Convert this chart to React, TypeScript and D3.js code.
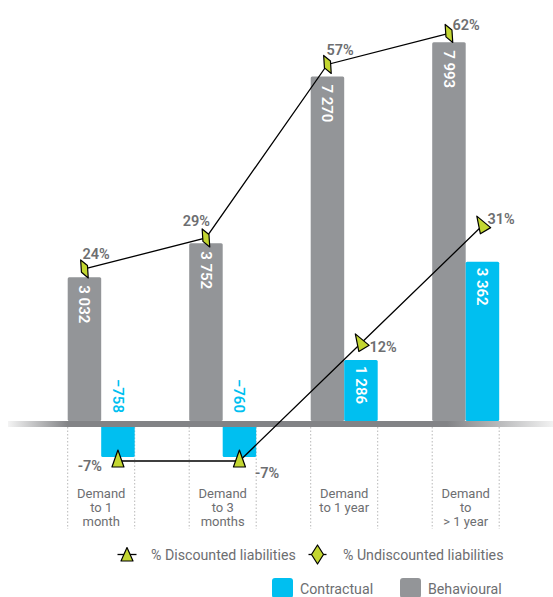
import React from "react";
import * as d3 from "d3";

const categories = ["Demand to 1 month", "Demand to 3 months", "Demand to 1 year", "Demand to > 1 year"];
const categoryLines = [["Demand", "to 1", "month"], ["Demand", "to 3", "months"], ["Demand", "to 1 year"], ["Demand", "to", "> 1 year"]];
const behavioural = [3032, 3752, 7270, 7993];
const contractual = [-758, -760, 1286, 3362];
const discounted = [-7, -7, 12, 31];
const undiscounted = [24, 29, 57, 62];
const seriesNames = ["Behavioural", "Contractual"];

// layout-only label offsets (dx, dy, anchor)
const undiscLabelPos: [number, number, string][] = [[-2, -9.5, "start"], [4, -12, "end"], [-1, -9.5, "start"], [3.5, -3.5, "start"]];
const discLabelPos: [number, number, string][] = [[-16, 9.5, "end"], [15.5, 16.5, "start"], [8.5, 9, "start"], [5, -2, "start"]];

const W = 553, H = 597;
const GRAY = "#939598";
const CYAN = "#00bff0";
const GREEN = "#c3d631";
const TXT = "#6d6e71";
const FONT = "Roboto, 'Open Sans', sans-serif";

const fmt = (v: number) => d3.format(",")(v).replace(/,/g, " ");

export default function App() {
  const x = d3.scaleBand<string>().domain(categories).range([67.7, 499.2]).paddingInner(0.4486).paddingOuter(0);
  const xs = d3.scaleBand<string>().domain(seriesNames).range([0, x.bandwidth()]);
  const k = 0.0474;
  const y0 = 421;
  const y = d3.scaleLinear().domain([-1000, 8000]).range([y0 + 1000 * k, y0 - 8000 * k]);
  const yp = d3.scaleLinear().domain([-10, 70]).range([479.6, -16.1]);

  const gx = (i: number) => x(categories[i])! + xs("Behavioural")! + xs.bandwidth() / 2;
  const cx = (i: number) => x(categories[i])! + xs("Contractual")! + xs.bandwidth() / 2;

  const undPts = undiscounted.map((v, i) => [gx(i), yp(v)] as [number, number]);
  const disPts = discounted.map((v, i) => [cx(i), yp(v)] as [number, number]);
  const line = d3.line();

  const diamond = "M-3.8,-9L3,-3.4L3.8,9L-3,3.4Z";
  const tri = "M0,-11L-6,6L6,6Z";

  const bw = xs.bandwidth();

  return (
    <svg width={W} height={H} style={{ position: "absolute", left: 0, top: 0, background: "#fff" }} fontFamily={FONT}>
      <defs>
        <linearGradient id="base" x1="0" x2={W} y1="0" y2="0" gradientUnits="userSpaceOnUse">
          <stop offset={8 / W} stopColor="#f4f4f4" />
          <stop offset={68 / W} stopColor="#828386" />
          <stop offset={447 / W} stopColor="#828386" />
          <stop offset={1} stopColor="#f2f2f2" />
        </linearGradient>
      </defs>

      {/* dotted guides */}
      {categories.map((c, i) => (
        <g key={"g" + i}>
          {[x(c)!, x(c)! + x.bandwidth()].map((xx, j) => (
            <line key={j} x1={xx} x2={xx} y1={427} y2={529} stroke="#b8b8b8" strokeWidth={1} strokeDasharray="1.5,2" />
          ))}
        </g>
      ))}

      {/* bars */}
      {categories.map((c, i) => {
        const bx = x(c)! + xs("Behavioural")!;
        const cxx = x(c)! + xs("Contractual")!;
        const bv = behavioural[i], cv = contractual[i];
        return (
          <g key={"b" + i}>
            <rect x={bx} y={y(bv)} width={bw} height={y(0) - y(bv)} fill={GRAY} rx={1.5} />
            <rect x={cxx} y={Math.min(y(cv), y(0))} width={bw} height={Math.abs(y(cv) - y(0))} fill={CYAN} rx={1.5} />
          </g>
        );
      })}

      {/* baseline band */}
      <rect x={8} y={421} width={W - 8} height={6} fill="url(#base)" />

      {/* bar value labels */}
      {categories.map((c, i) => {
        const bv = behavioural[i], cv = contractual[i];
        const bxc = gx(i), cxc = cx(i);
        return (
          <g key={"l" + i} fontSize={15} fontWeight={600}>
            <text transform={`translate(${bxc},${y(bv) + 8}) rotate(90)`} fill="#fff" dominantBaseline="central">{fmt(bv)}</text>
            {cv >= 0 ? (
              <text transform={`translate(${cxc},${y(cv) + 6}) rotate(90)`} fill="#fff" dominantBaseline="central">{fmt(cv)}</text>
            ) : (
              <text transform={`translate(${cxc},${413}) rotate(90)`} fill={CYAN} textAnchor="end" dominantBaseline="central">{fmt(cv)}</text>
            )}
          </g>
        );
      })}

      {/* lines */}
      <path d={line(undPts)!} fill="none" stroke="#000" strokeWidth={1.3} />
      <path d={line(disPts)!} fill="none" stroke="#000" strokeWidth={1.3} />

      {undPts.map((p, i) => (
        <path key={"d" + i} d={diamond} transform={`translate(${p[0]},${p[1]})`} fill={GREEN} stroke="#000" strokeWidth={1.2} strokeLinejoin="round" />
      ))}
      {disPts.map((p, i) => {
        const prev = i > 0 ? disPts[i - 1] : disPts[i + 1];
        const ang = i > 0 ? (Math.atan2(p[1] - prev[1], p[0] - prev[0]) * 180) / Math.PI : 0;
        return (
          <path key={"t" + i} d={tri} transform={`translate(${p[0]},${p[1]}) rotate(${ang * 0.7})`} fill={GREEN} stroke="#000" strokeWidth={1.2} strokeLinejoin="round" />
        );
      })}

      {/* percent labels */}
      {undPts.map((p, i) => (
        <text key={"ul" + i} x={p[0] + undiscLabelPos[i][0]} y={p[1] + undiscLabelPos[i][1]} textAnchor={undiscLabelPos[i][2] as any} fill={TXT} fontSize={14.5} fontWeight={600}>
          {undiscounted[i] + "%"}
        </text>
      ))}
      {disPts.map((p, i) => (
        <text key={"dl" + i} x={p[0] + discLabelPos[i][0]} y={p[1] + discLabelPos[i][1]} textAnchor={discLabelPos[i][2] as any} fill={TXT} fontSize={14.5} fontWeight={600}>
          {discounted[i] + "%"}
        </text>
      ))}

      {/* category labels */}
      {categories.map((c, i) => (
        <text key={"c" + i} x={x(c)! + x.bandwidth() / 2} y={498} textAnchor="middle" fill={TXT} fontSize={13}>
          {categoryLines[i].map((ln, j) => (
            <tspan key={j} x={x(c)! + x.bandwidth() / 2} dy={j === 0 ? 0 : 14}>{ln}</tspan>
          ))}
        </text>
      ))}

      {/* legend */}
      <g fontSize={14.2} fill={TXT}>
        <line x1={117.5} x2={136.5} y1={554.5} y2={554.5} stroke="#000" strokeWidth={1.3} />
        <path d="M0,-7L-6,6.5L6,6.5Z" transform="translate(127,554.5)" fill={GREEN} stroke="#000" strokeWidth={1.2} strokeLinejoin="round" />
        <text x={151} y={554.5} dominantBaseline="central">% Discounted liabilities</text>
        <line x1={308.5} x2={326.5} y1={554.5} y2={554.5} stroke="#000" strokeWidth={1.3} />
        <path d="M0,-9.5L6,0L0,9.5L-6,0Z" transform="translate(317.5,554.5)" fill={GREEN} stroke="#000" strokeWidth={1.2} strokeLinejoin="round" />
        <text x={343} y={554.5} dominantBaseline="central">% Undiscounted liabilities</text>
        <rect x={272} y={578} width={21} height={20} rx={3} fill={CYAN} />
        <text x={300} y={589} dominantBaseline="central">Contractual</text>
        <rect x={400} y={578} width={21} height={20} rx={3} fill={GRAY} />
        <text x={428} y={589} dominantBaseline="central">Behavioural</text>
      </g>
    </svg>
  );
}
